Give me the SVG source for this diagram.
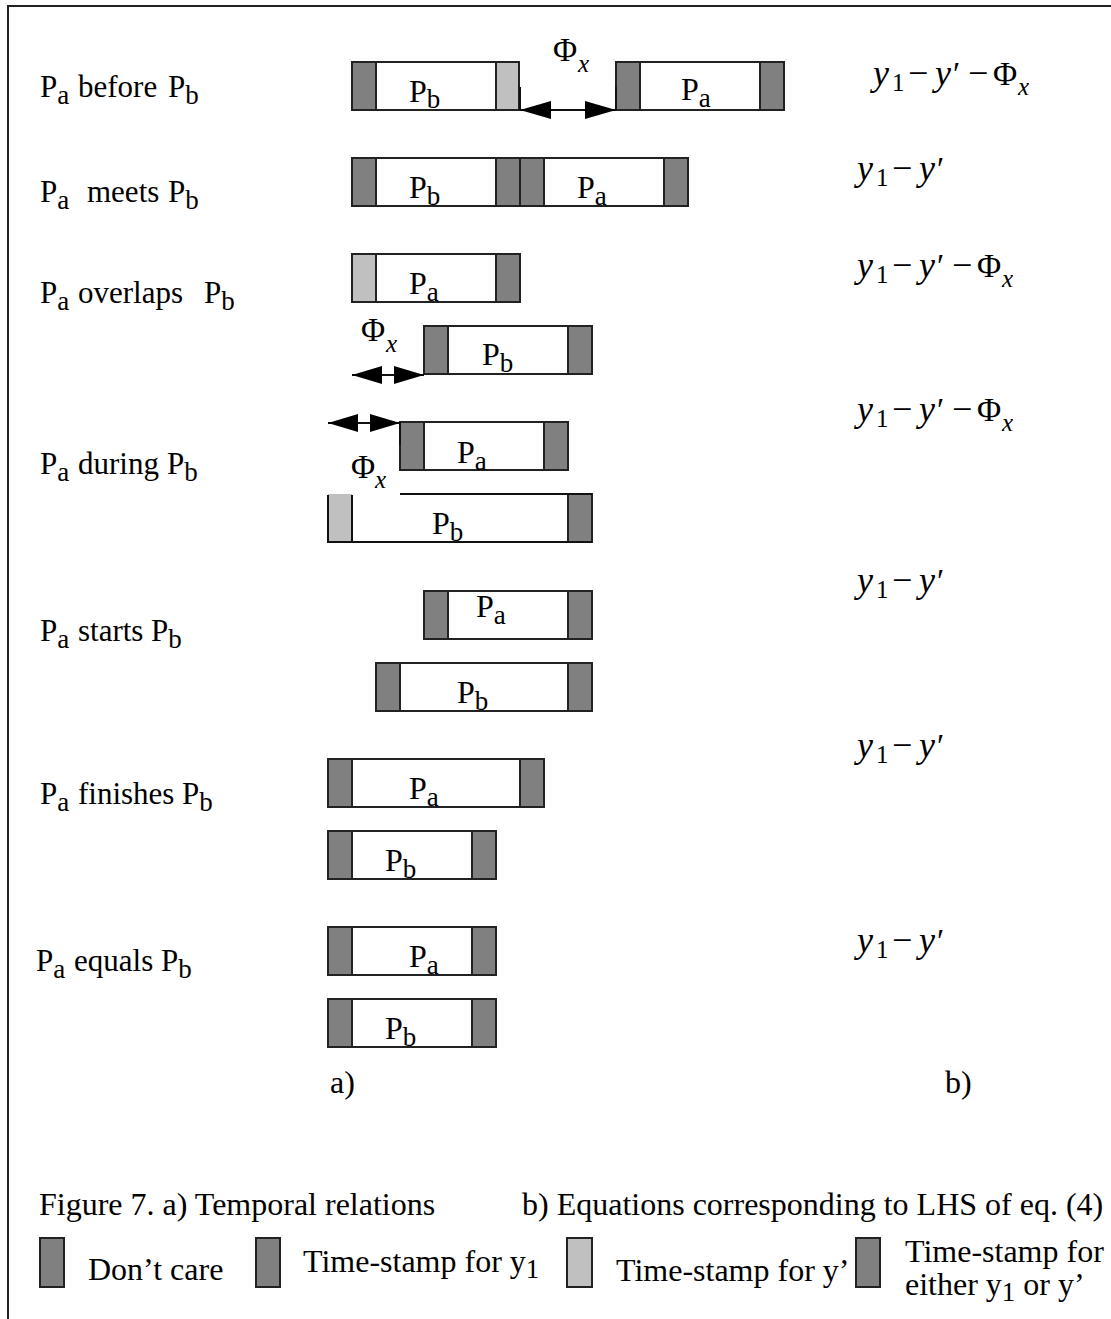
<svg xmlns="http://www.w3.org/2000/svg" width="1111" height="1319" viewBox="0 0 1111 1319">
<style>
.bg{fill:#fff}
.frame{fill:none;stroke:#222;stroke-width:2}
.bar{fill:#fff;stroke:#222;stroke-width:2}
.dk{fill:#808080;stroke:#222;stroke-width:2}
.lt{fill:#c0c0c0;stroke:#222;stroke-width:2}
.ln{fill:none;stroke:#111;stroke-width:2}
.head{fill:#000}
text{font-family:"Liberation Serif","Times New Roman",serif;fill:#000}
.lab{font-size:31px}
.cap{font-size:32px}
.bl{font-size:32px}
.eq{font-size:33px}
.s{font-size:27px}
.es{font-size:25px}
.it{font-style:italic}
.ey{font-size:36px;font-style:italic}
.mn{font-size:36px}
</style>
<rect class="bg" x="0" y="0" width="1111" height="1319"/>
<path class="frame" d="M8,1319 V6 H1111"/>

<!-- Row labels -->
<g id="labels">
<text class="lab" x="40" y="97">P<tspan class="s" dy="7">a</tspan><tspan x="78" dy="-7">before</tspan><tspan x="168">P</tspan><tspan class="s" dy="7">b</tspan></text>
<text class="lab" x="40" y="202">P<tspan class="s" dy="7">a</tspan><tspan x="87" dy="-7">meets</tspan><tspan x="168">P</tspan><tspan class="s" dy="7">b</tspan></text>
<text class="lab" x="40" y="303">P<tspan class="s" dy="7">a</tspan><tspan x="78" dy="-7">overlaps</tspan><tspan x="204">P</tspan><tspan class="s" dy="7">b</tspan></text>
<text class="lab" x="40" y="474">P<tspan class="s" dy="7">a</tspan><tspan x="78" dy="-7">during</tspan><tspan x="167">P</tspan><tspan class="s" dy="7">b</tspan></text>
<text class="lab" x="40" y="641">P<tspan class="s" dy="7">a</tspan><tspan x="78" dy="-7">starts</tspan><tspan x="151">P</tspan><tspan class="s" dy="7">b</tspan></text>
<text class="lab" x="40" y="804">P<tspan class="s" dy="7">a</tspan><tspan x="78" dy="-7">finishes</tspan><tspan x="182">P</tspan><tspan class="s" dy="7">b</tspan></text>
<text class="lab" x="36" y="971">P<tspan class="s" dy="7">a</tspan><tspan x="74" dy="-7">equals</tspan><tspan x="161">P</tspan><tspan class="s" dy="7">b</tspan></text>
</g>

<!-- Row 1: before -->
<g id="r1-pb">
<rect class="bar" x="352" y="62" width="167" height="48"/>
<rect class="dk" x="352" y="62" width="24" height="48"/>
<rect class="lt" x="496" y="62" width="23" height="48"/>
<text class="bl" x="409" y="102">P<tspan class="s" dy="6">b</tspan></text>
</g>
<g id="r1-pa">
<rect class="bar" x="616" y="62" width="168" height="48"/>
<rect class="dk" x="616" y="62" width="24" height="48"/>
<rect class="dk" x="760" y="62" width="24" height="48"/>
<text class="bl" x="681" y="100">P<tspan class="s" dy="7">a</tspan></text>
</g>

<!-- Row 2: meets -->
<g id="r2-pb">
<rect class="bar" x="352" y="158" width="168" height="48"/>
<rect class="dk" x="352" y="158" width="24" height="48"/>
<rect class="dk" x="496" y="158" width="24" height="48"/>
<text class="bl" x="409" y="198">P<tspan class="s" dy="7">b</tspan></text>
</g>
<g id="r2-pa">
<rect class="bar" x="520" y="158" width="168" height="48"/>
<rect class="dk" x="520" y="158" width="24" height="48"/>
<rect class="dk" x="664" y="158" width="24" height="48"/>
<text class="bl" x="577" y="198">P<tspan class="s" dy="7">a</tspan></text>
</g>

<!-- Row 3: overlaps -->
<g id="r3-pa">
<rect class="bar" x="352" y="254" width="168" height="48"/>
<rect class="lt" x="352" y="254" width="24" height="48"/>
<rect class="dk" x="496" y="254" width="24" height="48"/>
<text class="bl" x="409" y="294">P<tspan class="s" dy="7">a</tspan></text>
</g>
<g id="r3-pb">
<rect class="bar" x="424" y="326" width="168" height="48"/>
<rect class="dk" x="424" y="326" width="24" height="48"/>
<rect class="dk" x="568" y="326" width="24" height="48"/>
<text class="bl" x="482" y="365">P<tspan class="s" dy="7">b</tspan></text>
</g>

<!-- Row 4: during -->
<g id="r4-pa">
<rect class="bar" x="400" y="422" width="168" height="48"/>
<rect class="dk" x="400" y="422" width="24" height="48"/>
<rect class="dk" x="544" y="422" width="24" height="48"/>
<text class="bl" x="457" y="463">P<tspan class="s" dy="7">a</tspan></text>
</g>
<g id="r4-pb">
<rect x="328" y="494" width="264" height="48" fill="#fff"/>
<rect x="328" y="494" width="24" height="48" fill="#c0c0c0"/>
<rect class="dk" x="568" y="494" width="24" height="48"/>
<path class="ln" d="M400,494 H592 M328,495 V542 H592 M352,495 V542"/>
<text class="bl" x="432" y="534">P<tspan class="s" dy="7">b</tspan></text>
</g>

<!-- Row 5: starts -->
<g id="r5-pa">
<rect class="bar" x="424" y="591" width="168" height="48"/>
<rect class="dk" x="424" y="591" width="24" height="48"/>
<rect class="dk" x="568" y="591" width="24" height="48"/>
<text class="bl" x="476" y="617">P<tspan class="s" dy="7">a</tspan></text>
</g>
<g id="r5-pb">
<rect class="bar" x="376" y="663" width="216" height="48"/>
<rect class="dk" x="376" y="663" width="24" height="48"/>
<rect class="dk" x="568" y="663" width="24" height="48"/>
<text class="bl" x="457" y="703">P<tspan class="s" dy="7">b</tspan></text>
</g>

<!-- Row 6: finishes -->
<g id="r6-pa">
<rect class="bar" x="328" y="759" width="216" height="48"/>
<rect class="dk" x="328" y="759" width="24" height="48"/>
<rect class="dk" x="520" y="759" width="24" height="48"/>
<text class="bl" x="409" y="799">P<tspan class="s" dy="7">a</tspan></text>
</g>
<g id="r6-pb">
<rect class="bar" x="328" y="831" width="168" height="48"/>
<rect class="dk" x="328" y="831" width="24" height="48"/>
<rect class="dk" x="472" y="831" width="24" height="48"/>
<text class="bl" x="385" y="871">P<tspan class="s" dy="7">b</tspan></text>
</g>

<!-- Row 7: equals -->
<g id="r7-pa">
<rect class="bar" x="328" y="927" width="168" height="48"/>
<rect class="dk" x="328" y="927" width="24" height="48"/>
<rect class="dk" x="472" y="927" width="24" height="48"/>
<text class="bl" x="409" y="967">P<tspan class="s" dy="7">a</tspan></text>
</g>
<g id="r7-pb">
<rect class="bar" x="328" y="999" width="168" height="48"/>
<rect class="dk" x="328" y="999" width="24" height="48"/>
<rect class="dk" x="472" y="999" width="24" height="48"/>
<text class="bl" x="385" y="1039">P<tspan class="s" dy="7">b</tspan></text>
</g>

<!-- Interval arrows -->
<g id="connectors">
<path class="ln" d="M520,87 V110 M616,87 V110 M520,110 H616"/>
<path class="head" d="M520,110 L551,101 L551,119 Z M616,110 L585,101 L585,119 Z"/>
<path class="ln" d="M352,375 H424"/>
<path class="head" d="M352,375 L382,366 L382,384 Z M424,375 L394,366 L394,384 Z"/>
<path class="ln" d="M328,423 H400 M400,422 V445"/>
<path class="head" d="M328,423 L358,414 L358,432 Z M400,423 L370,414 L370,432 Z"/>
</g>

<g id="phi-labels">
<text class="eq" x="553" y="61">Φ<tspan class="es it" x="578" y="72">x</tspan></text>
<text class="eq" x="361" y="341">Φ<tspan class="es it" x="386" y="352">x</tspan></text>
<text class="eq" x="351" y="478">Φ<tspan class="es it" x="375" y="488">x</tspan></text>
</g>

<!-- Equations -->
<g id="equations">
<text class="eq" y="85"><tspan class="ey" x="873">y</tspan><tspan class="es" x="892" dy="6">1</tspan><tspan class="mn" x="908" dy="-6">−</tspan><tspan class="ey" x="935">y</tspan><tspan x="953">′</tspan><tspan class="mn" x="968">−</tspan><tspan x="993">Φ</tspan><tspan class="es it" x="1018" dy="10">x</tspan></text>
<text class="eq" y="180"><tspan class="ey" x="857">y</tspan><tspan class="es" x="876" dy="6">1</tspan><tspan class="mn" x="892" dy="-6">−</tspan><tspan class="ey" x="919">y</tspan><tspan x="937">′</tspan></text>
<text class="eq" y="277"><tspan class="ey" x="857">y</tspan><tspan class="es" x="876" dy="6">1</tspan><tspan class="mn" x="892" dy="-6">−</tspan><tspan class="ey" x="919">y</tspan><tspan x="937">′</tspan><tspan class="mn" x="952">−</tspan><tspan x="977">Φ</tspan><tspan class="es it" x="1002" dy="10">x</tspan></text>
<text class="eq" y="421"><tspan class="ey" x="857">y</tspan><tspan class="es" x="876" dy="6">1</tspan><tspan class="mn" x="892" dy="-6">−</tspan><tspan class="ey" x="919">y</tspan><tspan x="937">′</tspan><tspan class="mn" x="952">−</tspan><tspan x="977">Φ</tspan><tspan class="es it" x="1002" dy="10">x</tspan></text>
<text class="eq" y="592"><tspan class="ey" x="857">y</tspan><tspan class="es" x="876" dy="6">1</tspan><tspan class="mn" x="892" dy="-6">−</tspan><tspan class="ey" x="919">y</tspan><tspan x="937">′</tspan></text>
<text class="eq" y="757"><tspan class="ey" x="857">y</tspan><tspan class="es" x="876" dy="6">1</tspan><tspan class="mn" x="892" dy="-6">−</tspan><tspan class="ey" x="919">y</tspan><tspan x="937">′</tspan></text>
<text class="eq" y="952"><tspan class="ey" x="857">y</tspan><tspan class="es" x="876" dy="6">1</tspan><tspan class="mn" x="892" dy="-6">−</tspan><tspan class="ey" x="919">y</tspan><tspan x="937">′</tspan></text>
</g>

<g id="captions">
<text class="cap" x="330" y="1093">a)</text>
<text class="cap" x="945" y="1093">b)</text>
<text class="cap" x="39" y="1215">Figure 7. a) Temporal relations</text>
<text class="cap" x="522" y="1215">b) Equations corresponding to LHS of eq. (4)</text>
</g>

<g id="legend">
<rect class="dk" x="40" y="1238" width="24" height="49"/>
<text class="cap" x="88" y="1280">Don’t care</text>
<rect class="dk" x="256" y="1238" width="24" height="49"/>
<text class="cap" x="303" y="1272">Time-stamp for y<tspan class="s" dy="6">1</tspan></text>
<rect class="lt" x="567" y="1238" width="25" height="49"/>
<text class="cap" x="616" y="1281">Time-stamp for y’</text>
<rect class="dk" x="856" y="1238" width="24" height="49"/>
<text class="cap" x="905" y="1262">Time-stamp for</text>
<text class="cap" x="905" y="1295">either y<tspan class="s" dy="6">1</tspan><tspan dy="-6"> or y’</tspan></text>
</g>
</svg>
